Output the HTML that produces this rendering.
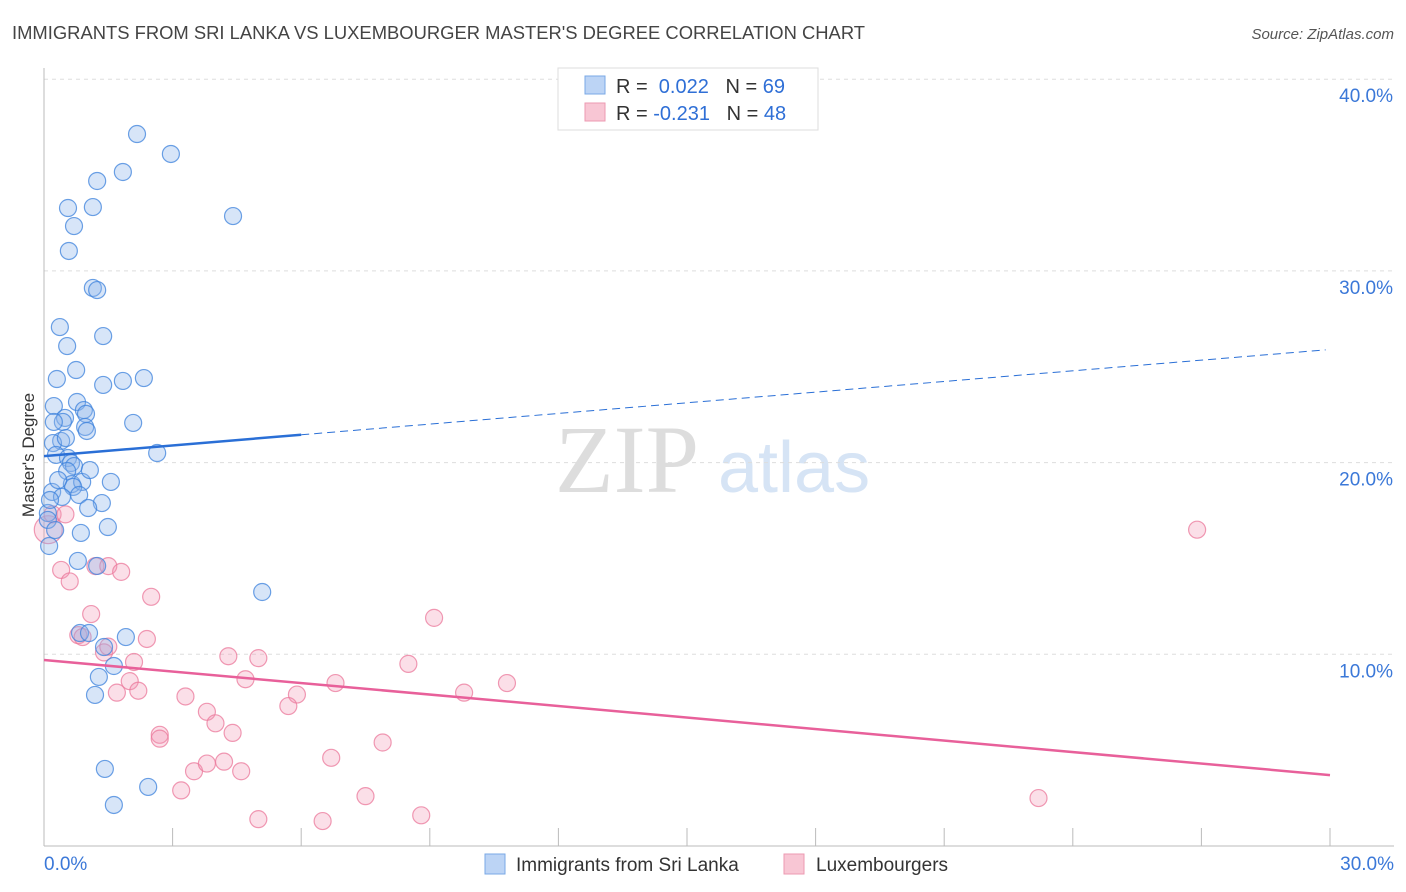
<!DOCTYPE html>
<html><head><meta charset="utf-8"><style>
body{margin:0;background:#fff;font-family:"Liberation Sans",sans-serif;}
svg{display:block}
</style></head><body>
<svg id="chart" width="1406" height="892">
<text x="12" y="39" font-size="18.4" fill="#444">IMMIGRANTS FROM SRI LANKA VS LUXEMBOURGER MASTER'S DEGREE CORRELATION CHART</text>
<text x="1394" y="39" font-size="15" fill="#555" font-style="italic" text-anchor="end">Source: ZipAtlas.com</text>
<text x="34" y="455" font-size="17" fill="#333" text-anchor="middle" transform="rotate(-90 34 455)">Master's Degree</text>
<text x="555" y="492" font-size="96" fill="#ddd" font-family="Liberation Serif,serif">ZIP</text>
<text x="718" y="492" font-size="72" fill="#d6e4f5">atlas</text>
<g id="grid"></g><g id="axes"></g><g id="pts"></g><g id="trends"></g>
<g>
<rect x="558" y="68" width="260" height="62" fill="#fff" stroke="#ddd"/>
<rect x="585" y="76" width="20" height="18" fill="#bcd4f5" stroke="#7aa8e6"/>
<text x="616" y="93" font-size="20" fill="#333">R = <tspan fill="#2f6fd6">&#160;0.022</tspan>&#160;&#160;&#160;N = <tspan fill="#2f6fd6">69</tspan></text>
<rect x="585" y="103" width="20" height="18" fill="#f8c6d4" stroke="#ec9ab2"/>
<text x="616" y="120" font-size="20" fill="#333">R = <tspan fill="#2f6fd6">-0.231</tspan>&#160;&#160;&#160;N = <tspan fill="#2f6fd6">48</tspan></text>
</g>
<g>
<rect x="485" y="854" width="20" height="20" fill="#bcd4f5" stroke="#7aa8e6"/>
<text x="516" y="871" font-size="19" fill="#333">Immigrants from Sri Lanka</text>
<rect x="784" y="854" width="20" height="20" fill="#f8c6d4" stroke="#ec9ab2"/>
<text x="816" y="871" font-size="19" fill="#333">Luxembourgers</text>
</g>
</svg>
<script>
const xTicksLbl=["0.0%","30.0%"];
const yTicks=[10,20,30,40];
const blueX=[2.17,2.96,1.84,1.24,0.56,1.14,4.41,0.70,0.58,1.14,1.24,0.37,1.38,0.54,0.75,0.30,1.84,2.33,1.38,0.23,0.77,0.93,0.98,0.49,0.44,0.23,0.96,1.00,2.08,0.40,0.21,2.64,0.28,0.56,0.63,0.70,0.54,0.65,0.89,1.56,0.19,0.68,0.42,0.82,1.35,1.03,0.09,1.49,0.86,0.12,0.79,1.24,5.09,0.84,1.05,1.91,1.40,1.63,1.28,1.19,1.42,2.43,1.63,0.09,0.14,0.33,0.51,1.07,0.26];
const blueY=[37.14,36.10,35.16,34.69,33.28,33.33,32.86,32.34,31.04,29.11,29.00,27.07,26.60,26.08,24.83,24.36,24.26,24.41,24.05,22.95,23.16,22.74,22.54,22.33,22.12,22.12,21.86,21.65,22.07,21.13,21.02,20.50,20.40,20.24,19.98,19.82,19.56,18.88,18.99,18.99,18.47,18.73,18.21,18.31,17.89,17.63,17.37,16.64,16.33,15.65,14.87,14.61,13.25,11.11,11.11,10.90,10.38,9.39,8.82,7.88,4.02,3.08,2.14,17.01,18.05,19.09,21.28,19.61,16.48];
const pinkX=[0.1,0.2,0.5,0.4,0.6,1.2,1.5,1.8,2.5,1.1,0.8,2.4,1.4,1.5,2.1,2.0,1.7,2.2,4.3,5.0,4.7,3.3,3.8,5.9,5.7,6.8,4.0,2.7,2.7,4.4,8.5,9.1,9.8,10.8,6.7,7.9,3.5,3.8,4.2,4.6,3.2,5.0,6.5,7.5,8.8,23.2,26.9,0.9];
const pinkY=[16.5,17.3,17.3,14.4,13.8,14.6,14.6,14.3,13.0,12.1,11.0,10.8,10.1,10.4,9.6,8.6,8.0,8.1,9.9,9.8,8.7,7.8,7.0,7.9,7.3,8.5,6.4,5.8,5.6,5.9,9.5,11.9,8.0,8.5,4.6,5.4,3.9,4.3,4.4,3.9,2.9,1.4,1.3,2.6,1.6,2.5,16.5,10.9];
const blueTrend=[20.34,25.9];
const pinkTrend=[9.7,3.7];
const NS="http://www.w3.org/2000/svg";
const X=v=>44+v/30*1286, Y=v=>846-v*19.17;
function mk(t,a,p){const e=document.createElementNS(NS,t);for(const k in a)e.setAttribute(k,a[k]);p.appendChild(e);return e;}
const grid=document.getElementById('grid'),axes=document.getElementById('axes'),pts=document.getElementById('pts'),tr=document.getElementById('trends');
yTicks.forEach(t=>{
 const l=mk('line',{x1:44,x2:1394,y1:Y(t),y2:Y(t),stroke:'#ddd','stroke-dasharray':'4,4'},grid);
 
 
 const tx=mk('text',{x:1393,y:Y(t)+23,'font-size':19,fill:'#3b78d8','text-anchor':'end'},grid);
 tx.textContent=t.toFixed(1)+'%';
 
 
});
const ax=mk('line',{x1:44,x2:44,y1:68,y2:846,stroke:'#bbb'},axes);


const bx=mk('line',{x1:44,x2:1394,y1:846,y2:846,stroke:'#bbb'},axes);


for(let i=0;i<=10;i++){const x=44+i*128.6;const t=mk('line',{x1:x,x2:x,y1:828,y2:846,stroke:'#bbb'},axes);
 
 }
[[0,'start',44],[30,'end',1394]].forEach((d,i)=>{const t=mk('text',{x:d[2],y:870,'font-size':19,fill:'#3b78d8','text-anchor':d[1]},axes);t.textContent=xTicksLbl[i];
 
 });
pinkX.forEach((v,i)=>{const c=mk('circle',{cx:X(v),cy:Y(pinkY[i]),r:i==0?14:8.5,fill:'rgba(242,150,180,0.3)',stroke:'rgba(235,120,155,0.75)','stroke-width':1.2},pts);
 
 });
blueX.forEach((v,i)=>{const c=mk('circle',{cx:X(v),cy:Y(blueY[i]),r:8.5,fill:'rgba(140,180,235,0.35)',stroke:'rgba(60,130,220,0.75)','stroke-width':1.2},pts);
 
 });
const by=x=>blueTrend[0]+(blueTrend[1]-blueTrend[0])*x/30;
const b1=mk('line',{x1:X(0),y1:Y(by(0)),x2:X(6),y2:Y(by(6)),stroke:'#2a6fd6','stroke-width':2.5},tr);


const b2=mk('line',{x1:X(6),y1:Y(by(6)),x2:X(29.9),y2:Y(by(29.9)),stroke:'#2a6fd6','stroke-width':1,'stroke-dasharray':'8,5'},tr);


const p1=mk('line',{x1:X(0),y1:Y(pinkTrend[0]),x2:X(30),y2:Y(pinkTrend[1]),stroke:'#e8609a','stroke-width':2.5},tr);


</script>
</body></html>
